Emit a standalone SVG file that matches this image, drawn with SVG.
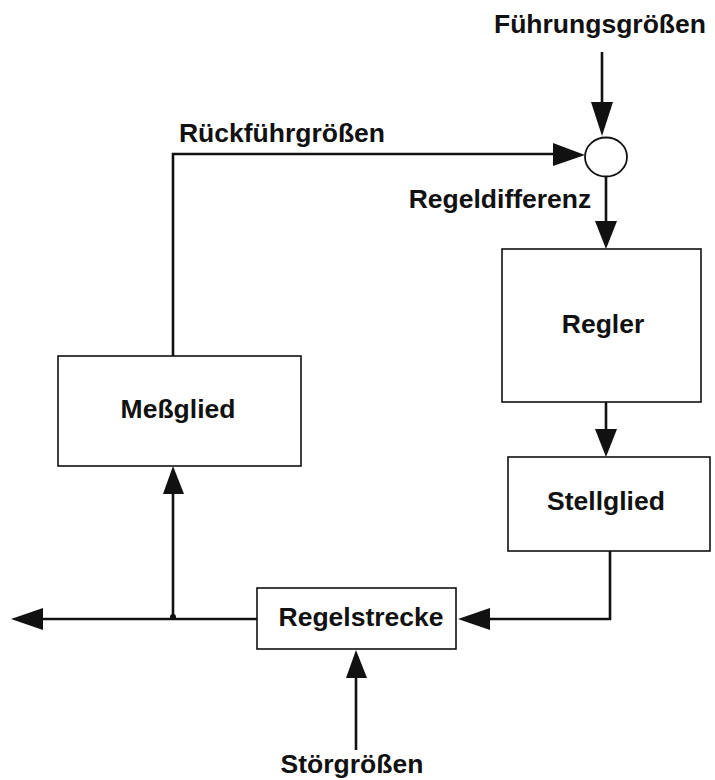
<svg xmlns="http://www.w3.org/2000/svg" width="715" height="780" viewBox="0 0 715 780">
<style>
.box{fill:#fff;stroke:#111;stroke-width:1.6}
.ln{fill:none;stroke:#111;stroke-width:2.6}
.ah{fill:#111}
text{font-family:"Liberation Sans",Arial,Helvetica,sans-serif;font-weight:bold;font-size:26.5px;fill:#111;text-anchor:middle}
</style>
<rect width="715" height="780" fill="#fff"/>
<g id="connectors">
  <!-- Führungsgrößen to summing point -->
  <line class="ln" x1="602" y1="52" x2="602" y2="108"/>
  <polygon class="ah" points="591,102 613,102 602,136"/>
  <!-- Rückführgrößen loop -->
  <polyline class="ln" points="173,357 173,154 560,154"/>
  <polygon class="ah" points="553,143 553,166 585,155"/>
  <!-- Regeldifferenz -->
  <line class="ln" x1="606" y1="176" x2="606" y2="226"/>
  <polygon class="ah" points="595,221 617,221 606,249"/>
  <!-- Regler to Stellglied -->
  <line class="ln" x1="606" y1="402" x2="606" y2="432"/>
  <polygon class="ah" points="595,429 617,429 606,457"/>
  <!-- Stellglied to Regelstrecke -->
  <polyline class="ln" points="610,551 610,619 485,619"/>
  <polygon class="ah" points="490,608 490,630 458,619"/>
  <!-- Regelstrecke output -->
  <line class="ln" x1="257" y1="619" x2="38" y2="619"/>
  <polygon class="ah" points="43,608 43,630 11,619"/>
  <!-- branch to Meßglied -->
  <line class="ln" x1="173" y1="619" x2="173" y2="490"/>
  <polygon class="ah" points="163,494 184,494 173,466"/>
  <circle cx="173" cy="617" r="3" fill="#111"/>
  <!-- Störgrößen -->
  <line class="ln" x1="356" y1="750" x2="356" y2="675"/>
  <polygon class="ah" points="346,678 367,678 356,650"/>
</g>
<g id="sum">
  <ellipse cx="606" cy="157" rx="21" ry="19.5" fill="#fff" stroke="#111" stroke-width="1.8"/>
</g>
<g id="regler">
  <rect class="box" x="502" y="249" width="199" height="153"/>
  <text x="603" y="333">Regler</text>
</g>
<g id="stellglied">
  <rect class="box" x="508" y="457" width="202" height="94"/>
  <text x="606" y="510">Stellglied</text>
</g>
<g id="messglied">
  <rect class="box" x="58" y="356" width="243" height="110"/>
  <text x="178" y="418">Meßglied</text>
</g>
<g id="regelstrecke">
  <rect class="box" x="257" y="588" width="199" height="61"/>
  <text x="361" y="626">Regelstrecke</text>
</g>
<g id="labels">
  <text x="600" y="33">Führungsgrößen</text>
  <text x="282" y="142">Rückführgrößen</text>
  <text x="500" y="208">Regeldifferenz</text>
  <text x="352" y="773">Störgrößen</text>
</g>
</svg>
